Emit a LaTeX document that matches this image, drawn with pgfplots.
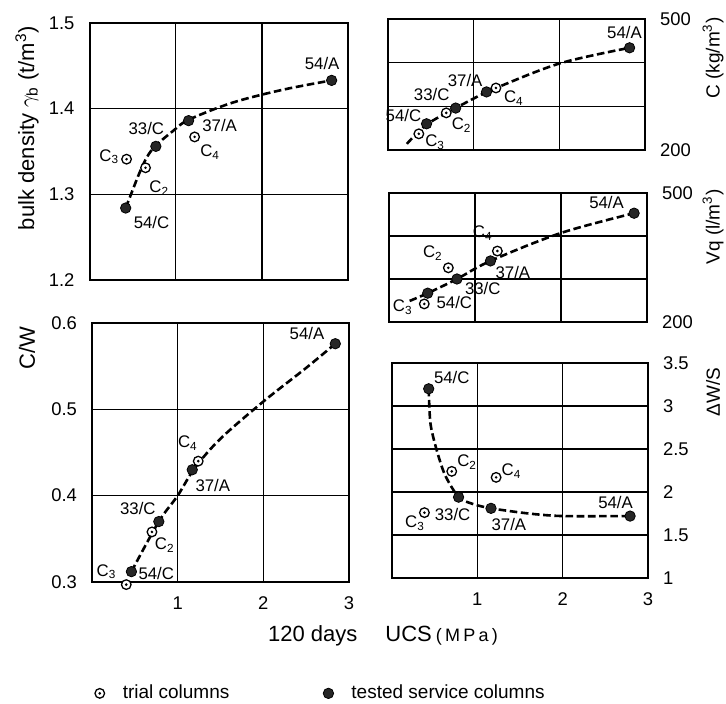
\documentclass[border=0pt]{standalone}
\usepackage{pgfplots}
\pgfplotsset{compat=1.18}
\usepackage{fontspec}
\setmainfont{Liberation Sans}

% open circle with a centre dot (trial columns)
\pgfdeclareplotmark{odot}{%
  \pgfpathcircle{\pgfpointorigin}{\pgfplotmarksize}%
  \pgfusepathqfillstroke
  \begin{pgfscope}
    \pgfsetfillcolor{black}%
    \pgfpathcircle{\pgfpointorigin}{0.3\pgfplotmarksize}%
    \pgfusepathqfill
  \end{pgfscope}}

\pgfplotsset{
  panel/.style={
    scale only axis, anchor=south west, clip=false,
    xmin=0, xmax=3, xtick={1,2,3}, xticklabels={},
    axis line style={line width=1pt},
    grid=major, major grid style={line width=0.7pt, black},
    tick style={draw=none}, major tick length=0pt,
    tick label style={font=\fontsize{9.2}{10}\selectfont},
    /pgf/number format/assume math mode=true,
  },
  leftlabels/.style={yticklabel style={xshift=-4pt}},
  rightlabels/.style={yticklabel pos=right, yticklabel style={xshift=4pt}},
  fit/.style={black, no markers, smooth, tension=0.55, line width=1.3pt,
    dash pattern=on 3.8pt off 1.8pt},
  trial/.style={only marks, mark=odot, mark size=2.4pt,
    mark options={line width=0.65pt, fill=white, draw=black, solid}},
  tested/.style={only marks, mark=*, mark size=2.6pt,
    mark options={fill=black!85, draw=black, solid}},
}
\tikzset{lab/.style={font=\fontsize{8.4}{9}\selectfont, inner sep=0pt}}
\newcommand{\Cn}[1]{C\textsubscript{#1}}

\begin{document}
\begin{tikzpicture}
\useasboundingbox (0pt,0pt) rectangle (363pt,352pt);

% ---------- bulk density ----------
\begin{axis}[panel, leftlabels, at={(44.75pt,212pt)}, width=129.25pt, height=128.5pt,
  ymin=1.2, ymax=1.5, ytick={1.2,1.3,1.4,1.5}, yticklabels={1.2,1.3,1.4,1.5}]
\addplot[fit] coordinates {(0.42,1.284) (0.47,1.297) (0.58,1.325) (0.67,1.344)
  (0.77,1.357) (0.97,1.374) (1.15,1.387) (1.66,1.407) (2.24,1.422) (2.81,1.433)};
\addplot[trial] coordinates {(0.43,1.341) (0.65,1.331) (1.22,1.367)};
\addplot[tested] coordinates {(0.42,1.284) (0.77,1.356) (1.15,1.386) (2.81,1.433)};
\node[lab] at (axis cs:2.70,1.453) {54/A};
\node[lab] at (axis cs:1.51,1.380) {37/A};
\node[lab] at (axis cs:0.66,1.377) {33/C};
\node[lab] at (axis cs:0.23,1.344) {\Cn{3}};
\node[lab] at (axis cs:1.40,1.349) {\Cn{4}};
\node[lab] at (axis cs:0.81,1.307) {\Cn{2}};
\node[lab] at (axis cs:0.72,1.267) {54/C};
\end{axis}

% ---------- C/W ----------
\begin{axis}[panel, leftlabels, at={(46pt,61pt)}, width=128.5pt, height=129.5pt,
  ymin=0.3, ymax=0.6, ytick={0.3,0.4,0.5,0.6}, yticklabels={0.3,0.4,0.5,0.6},
  xticklabels={1,2,3}, xticklabel style={yshift=-4pt},
  legend columns=2,
  legend style={at={(-0.018,-0.43)}, anchor=west, draw=none, fill=none,
    font=\fontsize{9.5}{10}\selectfont,
    /tikz/every even column/.append style={column sep=44.5pt}},
  legend image code/.code={\path[draw=none] (0pt,0pt) -- (12.5pt,0pt);
    \draw[#1] plot coordinates {(3pt,0pt)};}]
\addlegendimage{trial}
\addlegendentry{trial columns}
\addlegendimage{tested}
\addlegendentry{tested service columns}
\addplot[fit] coordinates {(0.46,0.312) (0.78,0.370) (1.0,0.400) (1.2,0.432)
  (1.5,0.466) (2.0,0.509) (2.5,0.548) (2.84,0.576)};
\addplot[trial] coordinates {(0.40,0.297) (0.70,0.358) (1.24,0.440)};
\addplot[tested] coordinates {(0.46,0.312) (0.78,0.370) (1.17,0.430) (2.84,0.576)};
\node[lab] at (axis cs:2.51,0.588) {54/A};
\node[lab] at (axis cs:1.12,0.461) {\Cn{4}};
\node[lab] at (axis cs:1.41,0.412) {37/A};
\node[lab] at (axis cs:0.535,0.385) {33/C};
\node[lab] at (axis cs:0.85,0.343) {\Cn{2}};
\node[lab] at (axis cs:0.17,0.312) {\Cn{3}};
\node[lab] at (axis cs:0.75,0.310) {54/C};
\end{axis}

% ---------- cement content ----------
\begin{axis}[panel, rightlabels, at={(194pt,277pt)}, width=128.5pt, height=65.5pt,
  ymin=200, ymax=500, ytick={200,300,400,500}, yticklabels={200,,,500}]
\addplot[fit] coordinates {(0.22,214) (0.45,258) (0.79,296) (1.15,333)
  (1.26,342) (2.0,398) (2.82,434)};
\addplot[trial] coordinates {(0.36,237) (0.68,285) (1.26,342)};
\addplot[tested] coordinates {(0.45,260) (0.79,296) (1.15,333) (2.82,434)};
\node[lab] at (axis cs:2.76,470) {54/A};
\node[lab] at (axis cs:0.90,360) {37/A};
\node[lab] at (axis cs:0.51,326) {33/C};
\node[lab] at (axis cs:0.18,280) {54/C};
\node[lab] at (axis cs:1.47,319) {\Cn{4}};
\node[lab] at (axis cs:0.86,257) {\Cn{2}};
\node[lab] at (axis cs:0.55,218) {\Cn{3}};
\end{axis}

% ---------- air void volume ----------
\begin{axis}[panel, rightlabels, at={(194.5pt,191pt)}, width=129pt, height=64.5pt,
  ymin=200, ymax=500, ytick={200,300,400,500}, yticklabels={200,,,500}]
\addplot[fit] coordinates {(0.24,249) (0.45,267) (0.79,300) (1.18,342)
  (2.0,407) (2.85,453)};
\addplot[trial] coordinates {(0.41,242) (0.69,326) (1.26,365)};
\addplot[tested] coordinates {(0.45,267) (0.79,300) (1.18,342) (2.85,453)};
\node[lab] at (axis cs:2.53,479) {54/A};
\node[lab] at (axis cs:1.09,407) {\Cn{4}};
\node[lab] at (axis cs:0.51,360) {\Cn{2}};
\node[lab] at (axis cs:1.44,316) {37/A};
\node[lab] at (axis cs:1.09,279) {33/C};
\node[lab] at (axis cs:0.76,246) {54/C};
\node[lab] at (axis cs:0.16,235) {\Cn{3}};
\end{axis}

% ---------- water/solid ratio change ----------
\begin{axis}[panel, rightlabels, at={(196pt,63pt)}, width=128pt, height=107.5pt,
  ymin=1, ymax=3.5, ytick={1,1.5,2,2.5,3,3.5},
  yticklabels={1,1.5,2,2.5,3,3.5},
  xticklabels={1,2,3}, xticklabel style={yshift=-4pt}]
\addplot[fit, tension=0.45] coordinates {(0.43,3.2) (0.45,2.8) (0.52,2.5) (0.62,2.2)
  (0.78,1.94) (0.95,1.86) (1.16,1.81) (1.6,1.75) (2.0,1.72) (2.79,1.72)};
\addplot[trial] coordinates {(0.38,1.76) (0.70,2.24) (1.22,2.17)};
\addplot[tested] coordinates {(0.43,3.2) (0.78,1.94) (1.16,1.81) (2.79,1.72)};
\node[lab] at (axis cs:0.70,3.33) {54/C};
\node[lab] at (axis cs:0.88,2.35) {\Cn{2}};
\node[lab] at (axis cs:1.40,2.24) {\Cn{4}};
\node[lab] at (axis cs:0.71,1.74) {33/C};
\node[lab] at (axis cs:0.27,1.64) {\Cn{3}};
\node[lab] at (axis cs:1.37,1.62) {37/A};
\node[lab] at (axis cs:2.62,1.88) {54/A};
\end{axis}

% ---------- axis titles ----------
\node[rotate=90, font=\fontsize{11}{12}\selectfont] at (13.5pt,288pt)
  {bulk density $\gamma_\mathrm{b}$ (t/m\textsuperscript{3})};
\node[rotate=90, font=\fontsize{11}{12}\selectfont] at (13.5pt,178pt) {C/W};
\node[rotate=90, font=\fontsize{9.5}{11}\selectfont] at (356.5pt,323pt)
  {C (kg/m\textsuperscript{3})};
\node[rotate=90, font=\fontsize{9.5}{11}\selectfont] at (356.5pt,238.5pt)
  {Vq (l/m\textsuperscript{3})};
\node[rotate=90, font=\fontsize{9.5}{11}\selectfont] at (356.5pt,156pt) {ΔW/S};
\node[font=\fontsize{11}{12}\selectfont] at (191.5pt,34pt)
  {120 days\hspace{14pt}UCS\hspace{2pt}{\fontsize{9}{9}\selectfont
   \addfontfeatures{LetterSpace=18}(MPa)}};
\end{tikzpicture}
\end{document}
